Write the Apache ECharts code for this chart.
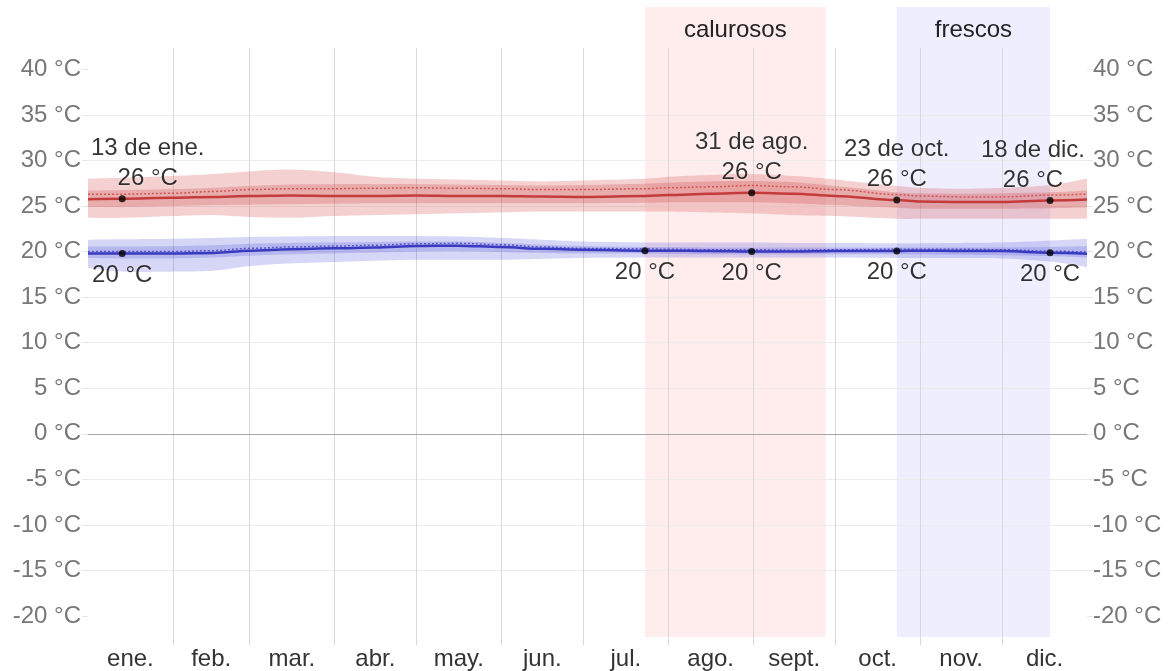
<!DOCTYPE html>
<html><head><meta charset="utf-8">
<script src="https://cdn.jsdelivr.net/npm/echarts@6/dist/echarts.min.js"></script>
<style>html,body{margin:0;padding:0;background:#fff}#c{width:1169px;height:671px}</style>
</head><body><div id="c"></div>
<script>
const FONT = '"Liberation Sans", Arial, sans-serif';

// ---- categories / ticks ----
const monthNames = ['ene.', 'feb.', 'mar.', 'abr.', 'may.', 'jun.', 'jul.', 'ago.', 'sept.', 'oct.', 'nov.', 'dic.'];
const monthStarts = [0, 31, 59, 90, 120, 151, 181, 212, 243, 273, 304, 334, 365];
const yTicks = [-20, -15, -10, -5, 0, 5, 10, 15, 20, 25, 30, 35, 40];

// ---- series (day of year) ----
const days     = [0, 12.5, 31, 46, 59, 74, 90, 105, 120, 135, 151, 166, 181, 203.5, 212, 227, 242.5, 258, 273, 295.5, 304, 319, 334, 351.5, 365];
const highAvg  = [25.75, 25.8, 25.9, 26.0, 26.1, 26.15, 26.1, 26.1, 26.15, 26.1, 26.1, 26.05, 26.0, 26.1, 26.2, 26.35, 26.45, 26.35, 26.1, 25.65, 25.5, 25.45, 25.45, 25.6, 25.7];
const highFeel = [26.3, 26.3, 26.4, 26.6, 26.8, 26.9, 26.9, 26.95, 27.0, 26.95, 26.9, 26.8, 26.8, 26.9, 27.0, 27.1, 27.25, 27.1, 26.8, 26.25, 26.1, 26.0, 26.0, 26.2, 26.3];
const highP10  = [23.7, 23.7, 23.9, 24.0, 23.8, 23.7, 23.9, 24.0, 24.1, 24.2, 24.3, 24.4, 24.4, 24.4, 24.4, 24.3, 24.2, 24.0, 23.9, 23.6, 23.6, 23.6, 23.6, 23.6, 23.6];
const highP25  = [24.9, 24.9, 25.0, 25.1, 25.15, 25.2, 25.25, 25.3, 25.3, 25.3, 25.3, 25.3, 25.3, 25.35, 25.4, 25.4, 25.4, 25.3, 25.1, 24.8, 24.7, 24.7, 24.7, 24.75, 24.85];
const highP75  = [26.7, 26.75, 26.85, 27.0, 27.2, 27.35, 27.4, 27.4, 27.4, 27.35, 27.3, 27.25, 27.3, 27.45, 27.55, 27.7, 27.75, 27.6, 27.2, 26.5, 26.4, 26.35, 26.4, 26.5, 26.7];
const highP90  = [28.0, 28.1, 28.3, 28.5, 28.8, 29.0, 28.7, 28.2, 28.0, 27.9, 27.8, 27.7, 27.8, 28.0, 28.2, 28.4, 28.5, 28.3, 27.9, 27.2, 27.0, 26.9, 27.0, 27.3, 28.0];
const lowAvg   = [19.8, 19.8, 19.8, 19.85, 20.1, 20.25, 20.35, 20.45, 20.6, 20.65, 20.5, 20.3, 20.2, 20.1, 20.1, 20.05, 20.0, 20.0, 20.05, 20.05, 20.1, 20.05, 20.05, 19.87, 19.75];
const lowFeel  = [20.0, 20.0, 20.0, 20.1, 20.35, 20.5, 20.6, 20.7, 20.85, 20.9, 20.75, 20.5, 20.35, 20.3, 20.25, 20.2, 20.2, 20.15, 20.2, 20.25, 20.25, 20.25, 20.2, 20.05, 19.95];
const lowP10   = [18.2, 17.8, 17.8, 17.9, 18.4, 18.7, 18.85, 19.0, 19.1, 19.1, 19.1, 19.2, 19.3, 19.35, 19.35, 19.35, 19.35, 19.35, 19.35, 19.3, 19.3, 19.3, 19.25, 18.9, 18.3];
const lowP25   = [19.3, 19.25, 19.25, 19.35, 19.55, 19.7, 19.8, 19.9, 20.0, 20.05, 19.95, 19.85, 19.8, 19.8, 19.75, 19.7, 19.7, 19.7, 19.7, 19.7, 19.7, 19.65, 19.6, 19.5, 19.35];
const lowP75   = [20.55, 20.55, 20.6, 20.7, 20.85, 20.95, 21.0, 21.05, 21.1, 21.1, 20.95, 20.75, 20.6, 20.5, 20.5, 20.45, 20.45, 20.45, 20.45, 20.45, 20.45, 20.45, 20.45, 20.5, 20.6];
const lowP90   = [21.3, 21.35, 21.4, 21.5, 21.6, 21.65, 21.7, 21.7, 21.7, 21.65, 21.5, 21.3, 21.1, 21.0, 21.0, 21.0, 21.0, 20.95, 20.95, 20.9, 20.9, 20.95, 21.0, 21.2, 21.4];

// ---- annotations ----
const highMarkDays  = [12.5, 242.5, 295.5, 351.5];
const highMarkDates = ['13 de ene.', '31 de ago.', '23 de oct.', '18 de dic.'];
const lowMarkDays   = [12.5, 203.5, 242.5, 295.5, 351.5];

// ---- seasons ----
const seasonNames = ['calurosos', 'frescos'];
const seasonStart = [203.5, 295.5];
const seasonEnd   = [269.5, 351.5];

// ---------------------------------------------------------------
const zip = (a) => days.map((d, i) => [d, a[i]]);
const at = (arr, d) => arr[days.indexOf(d)];
const monthMids = monthNames.map((m, i) => (monthStarts[i] + monthStarts[i + 1]) / 2);
const degLabel = (v) => Math.round(v) + ' °C';

const Y_MIN = -23.18, Y_MAX = 42.34;

// Catmull-Rom rendering of a pixel polyline (drawing only, data points untouched)
function smoothPixels(pts, steps) {
  const out = [pts[0]];
  for (let i = 0; i < pts.length - 1; i++) {
    const p0 = pts[i - 1] || pts[i], p1 = pts[i], p2 = pts[i + 1], p3 = pts[i + 2] || pts[i + 1];
    const t1 = [(p2[0] - p0[0]) / 6, (p2[1] - p0[1]) / 6];
    const t2 = [(p3[0] - p1[0]) / 6, (p3[1] - p1[1]) / 6];
    const c1 = [p1[0] + t1[0], p1[1] + t1[1]];
    const c2 = [p2[0] - t2[0], p2[1] - t2[1]];
    for (let s = 1; s <= steps; s++) {
      const t = s / steps, u = 1 - t;
      out.push([
        u * u * u * p1[0] + 3 * u * u * t * c1[0] + 3 * u * t * t * c2[0] + t * t * t * p2[0],
        u * u * u * p1[1] + 3 * u * u * t * c1[1] + 3 * u * t * t * c2[1] + t * t * t * p2[1]
      ]);
    }
  }
  return out;
}

// band between two percentile arrays, drawn through the axis scales
function bandSeries(lo, hi, color) {
  return {
    type: 'custom', xAxisIndex: 0, yAxisIndex: 0, silent: true, z: 2,
    data: [[0, 0]],
    renderItem: function (params, api) {
      const top = smoothPixels(days.map((d, i) => api.coord([d, hi[i]])), 10);
      const bot = smoothPixels(days.map((d, i) => api.coord([d, lo[i]])), 10).reverse();
      return { type: 'polygon', shape: { points: top.concat(bot) }, style: { fill: color } };
    }
  };
}

function lineSeries(arr, color, width, type, z) {
  return { type: 'line', xAxisIndex: 0, yAxisIndex: 0, data: zip(arr), symbol: 'none', smooth: 0.35,
    smoothMonotone: 'x', lineStyle: { color: color, width: width, type: type }, silent: true, z: z };
}

const labelCommon = { show: true, color: '#000', fontSize: 24, fontFamily: FONT, lineHeight: 30,
  textShadowColor: 'rgba(255,255,255,0.9)', textShadowBlur: 3 };

function highData(offsets) {
  return highMarkDays.map((d, i) => ({
    value: [d, at(highAvg, d)],
    label: Object.assign({}, labelCommon, { position: 'top', distance: 2,
      formatter: highMarkDates[i] + '\n' + degLabel(at(highAvg, d)), offset: [offsets ? offsets[i] : 0, 0] })
  }));
}
function lowData(offsets) {
  return lowMarkDays.map((d, i) => ({
    value: [d, at(lowAvg, d)],
    label: Object.assign({}, labelCommon, { position: 'bottom', distance: 3,
      formatter: degLabel(at(lowAvg, d)), offset: [offsets ? offsets[i] : 0, 0] })
  }));
}

const seasonData = seasonNames.map((n, i) => [seasonStart[i], seasonEnd[i], n, i]);
const seasonFill = ['rgba(255, 80, 80, 0.10)', 'rgba(90, 90, 255, 0.10)'];

const option = {
  animation: false,
  backgroundColor: '#fff',
  grid: [
    { left: 88, right: 82, top: 48, bottom: 26 },
    { left: 88, right: 82, top: 7, bottom: 34 }
  ],
  xAxis: [
    { type: 'value', gridIndex: 0, min: 0, max: 365, z: 1,
      axisLine: { show: false },
      axisTick: { show: false, customValues: monthStarts.slice(1, 12) },
      splitLine: { show: true, lineStyle: { color: '#d9d9d9', width: 1 } },
      axisLabel: { customValues: monthMids, margin: 2, color: '#333', fontSize: 24, fontFamily: FONT,
        formatter: (v) => monthNames[monthMids.indexOf(v)] || '' } },
    { type: 'value', gridIndex: 1, min: 0, max: 365, show: false }
  ],
  yAxis: [
    { type: 'value', gridIndex: 0, position: 'left', min: Y_MIN, max: Y_MAX, splitNumber: 13, z: 1,
      axisLine: { show: false },
      axisTick: { show: true, length: 6, customValues: yTicks, lineStyle: { color: '#e6e6e6' } },
      splitLine: { show: true, showMinLine: false, showMaxLine: false, lineStyle: { color: '#ececec' } },
      axisLabel: { customValues: yTicks, margin: 7, color: '#777', fontSize: 24, fontFamily: FONT,
        formatter: (v) => v + ' °C' } },
    { type: 'value', gridIndex: 0, position: 'right', min: Y_MIN, max: Y_MAX, splitNumber: 13, z: 1,
      axisLine: { show: false },
      axisTick: { show: true, length: 6, customValues: yTicks, lineStyle: { color: '#e6e6e6' } },
      splitLine: { show: false },
      axisLabel: { customValues: yTicks, margin: 6, color: '#777', fontSize: 24, fontFamily: FONT,
        formatter: (v) => v + ' °C' } },
    { type: 'value', gridIndex: 1, min: 0, max: 1, show: false }
  ],
  series: [
    { type: 'custom', xAxisIndex: 1, yAxisIndex: 2, data: seasonData, silent: true, z: 0,
      renderItem: function (params, api) {
        const p0 = api.coord([api.value(0), 1]);
        const p1 = api.coord([api.value(1), 0]);
        const idx = api.value(3);
        return { type: 'group', children: [
          { type: 'rect', shape: { x: p0[0], y: p0[1], width: p1[0] - p0[0], height: p1[1] - p0[1] },
            style: { fill: seasonFill[idx] } },
          { type: 'text', style: { text: seasonNames[idx], x: (p0[0] + p1[0]) / 2, y: p0[1] + 23,
            align: 'center', verticalAlign: 'middle', fontSize: 24, fontFamily: FONT, fill: '#222' } }
        ] };
      } },
    bandSeries(highP10, highP90, 'rgba(215, 85, 85, 0.28)'),
    bandSeries(highP25, highP75, 'rgba(200, 70, 70, 0.26)'),
    bandSeries(lowP10, lowP90, 'rgba(90, 90, 220, 0.25)'),
    bandSeries(lowP25, lowP75, 'rgba(90, 90, 220, 0.25)'),
    lineSeries(highFeel, '#cf5656', 1.5, [2, 2], 3),
    Object.assign(lineSeries(highAvg, '#c43b3b', 2.5, 'solid', 4), {
      markLine: { silent: true, symbol: ['none', 'none'], label: { show: false },
        lineStyle: { color: '#a8a8a8', width: 1, type: 'solid' }, data: [{ yAxis: 0 }] } }),
    lineSeries(lowFeel, '#5656cf', 1.5, [2, 2], 3),
    lineSeries(lowAvg, '#3a3ac0', 2.5, 'solid', 4),
    { type: 'scatter', name: 'highDots', xAxisIndex: 0, yAxisIndex: 0, symbolSize: 7,
      itemStyle: { color: '#000' }, data: highData(null), z: 6, silent: true },
    { type: 'scatter', name: 'lowDots', xAxisIndex: 0, yAxisIndex: 0, symbolSize: 7,
      itemStyle: { color: '#000' }, data: lowData(null), z: 6, silent: true }
  ]
};

const chart = echarts.init(document.getElementById('c'), null, { renderer: 'canvas' });
chart.setOption(option);

// keep annotation labels inside the plot area
(function clampLabels() {
  const ctx = document.createElement('canvas').getContext('2d');
  ctx.font = '24px ' + FONT;
  const left = chart.convertToPixel({ gridIndex: 0 }, [0, 0])[0] + 3;
  const right = chart.convertToPixel({ gridIndex: 0 }, [365, 0])[0] - 2;
  function offsets(dayList, texts) {
    return dayList.map((d, i) => {
      const px = chart.convertToPixel({ gridIndex: 0 }, [d, 0])[0];
      const w = Math.max.apply(null, texts[i].split('\n').map(t => ctx.measureText(t).width));
      const l = px - w / 2, r = px + w / 2;
      if (l < left) return left - l;
      if (r > right) return right - r;
      return 0;
    });
  }
  const hiTexts = highMarkDays.map((d, i) => highMarkDates[i] + '\n' + degLabel(at(highAvg, d)));
  const loTexts = lowMarkDays.map((d) => degLabel(at(lowAvg, d)));
  const n = option.series.length;
  option.series[n - 2].data = highData(offsets(highMarkDays, hiTexts));
  option.series[n - 1].data = lowData(offsets(lowMarkDays, loTexts));
  chart.setOption({ series: option.series });
})();
</script>
</body></html>
